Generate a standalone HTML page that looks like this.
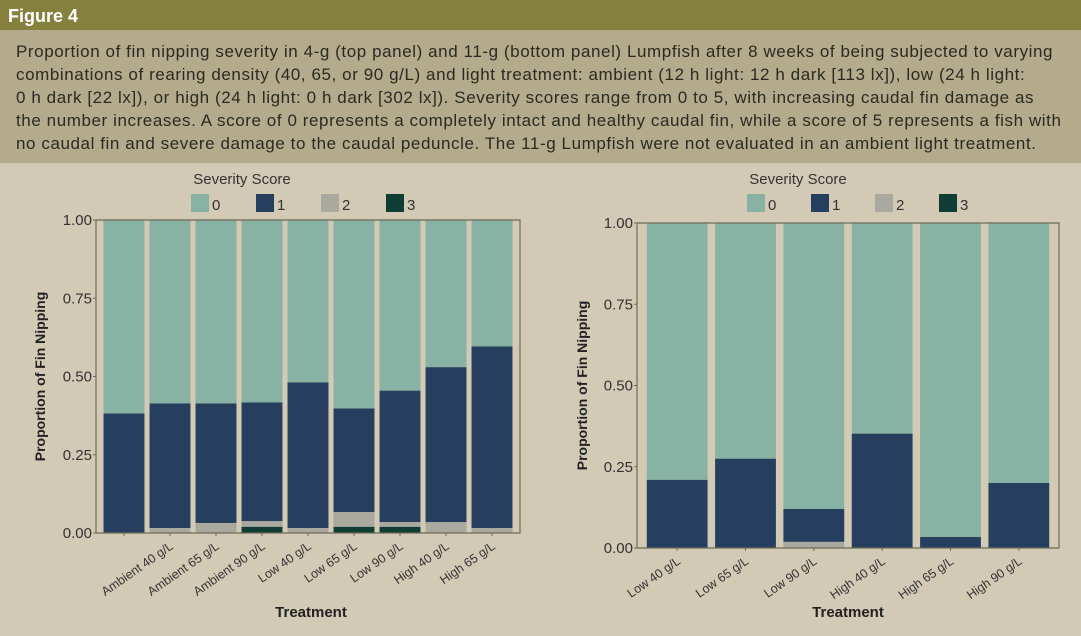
<!DOCTYPE html>
<html><head><meta charset="utf-8">
<style>
body{margin:0;width:1081px;height:636px;overflow:hidden;background:#d2cab5;font-family:"Liberation Sans","DejaVu Sans",sans-serif;}
#hdr{position:absolute;left:0;top:0;width:1081px;height:30px;background:#86803f;color:#fff;font-weight:bold;font-size:18px;line-height:32px;padding-left:8px;box-sizing:border-box;}
#cap{position:absolute;left:0;top:30px;width:1081px;height:133px;background:#b3ab8b;color:#2a2a22;font-size:17px;letter-spacing:0.58px;line-height:23px;padding:10px 0 0 16px;box-sizing:border-box;white-space:nowrap;}
svg{position:absolute;left:0;top:0;}
</style></head><body>
<div id="hdr">Figure 4</div>
<div id="cap">Proportion of fin nipping severity in 4-g (top panel) and 11-g (bottom panel) Lumpfish after 8 weeks of being subjected to varying<br>combinations of rearing density (40, 65, or 90 g/L) and light treatment: ambient (12 h light: 12 h dark [113 lx]), low (24 h light:<br>0 h dark [22 lx]), or high (24 h light: 0 h dark [302 lx]). Severity scores range from 0 to 5, with increasing caudal fin damage as<br>the number increases. A score of 0 represents a completely intact and healthy caudal fin, while a score of 5 represents a fish with<br>no caudal fin and severe damage to the caudal peduncle. The 11-g Lumpfish were not evaluated in an ambient light treatment.</div>
<svg id="chart" width="1081" height="636" xmlns="http://www.w3.org/2000/svg"></svg>
<script>
const leftCategories=["","Ambient 40 g/L","Ambient 65 g/L","Ambient 90 g/L","Low 40 g/L","Low 65 g/L","Low 90 g/L","High 40 g/L","High 65 g/L"];
const leftS3=[0,0,0,0.02,0,0.02,0.02,0,0];
const leftS2=[0,0.016,0.032,0.018,0.016,0.047,0.015,0.035,0.016];
const leftS1=[0.382,0.398,0.382,0.379,0.465,0.331,0.42,0.495,0.58];
const rightCategories=["Low 40 g/L","Low 65 g/L","Low 90 g/L","High 40 g/L","High 65 g/L","High 90 g/L"];
const rightS3=[0,0,0,0,0,0];
const rightS2=[0,0,0.019,0,0,0];
const rightS1=[0.21,0.275,0.101,0.352,0.034,0.2];
const yTicks=["0.00","0.25","0.50","0.75","1.00"];
const legendKeys=["0","1","2","3"];
const colors=["#88b2a3","#263f5e","#a9a99f","#0f3d35"];
const NS="http://www.w3.org/2000/svg";
const svg=document.getElementById('chart');
function mk(tag,attrs,parent,text){const e=document.createElementNS(NS,tag);for(const k in attrs)e.setAttribute(k,attrs[k]);if(text!==undefined)e.textContent=text;(parent||svg).appendChild(e);return e;}
function panel(cfg,cats,s1,s2,s3,tag){
  const g=mk('g',{});
  
  
  const y=v=>cfg.y0-v*(cfg.y0-cfg.y1);
  const n=cats.length, slot=(cfg.x1-cfg.x0-2*cfg.pad)/n, bw=slot*cfg.frac;
  const x=i=>cfg.x0+cfg.pad+slot*i+(slot-bw)/2;
  for(let i=0;i<n;i++){
    const stack=[s3[i],s2[i],s1[i],Math.max(0,1-s1[i]-s2[i]-s3[i])];
    const sc=[3,2,1,0];let base=0;
    stack.forEach((v,k)=>{
      if(v<=0){return;}
      const r=mk('rect',{x:x(i),y:y(base+v),width:bw,height:y(base)-y(base+v),fill:colors[sc[k]]},g);
      
      
      base+=v;
    });
    const cx=x(i)+bw/2;
    mk('line',{x1:cx,x2:cx,y1:cfg.y0,y2:cfg.y0+3,stroke:'#6e6a58'},g);
    if(cats[i]){
      const t=mk('text',{x:cx+4,y:cfg.y0+15,'font-size':12.5,fill:'#333','text-anchor':'end',transform:`rotate(-35 ${cx+4} ${cfg.y0+15})`},g,cats[i]);
      
      
    }
  }
  const ax=mk('path',{d:`M${cfg.x0} ${cfg.y1}V${cfg.y0}H${cfg.x1}V${cfg.y1}H${cfg.x0}`,fill:'none',stroke:'#6e6a58','stroke-width':1.2},g);
  
  
  yTicks.forEach((t,k)=>{
    const yy=y(parseFloat(t));
    mk('line',{x1:cfg.x0-3,x2:cfg.x0,y1:yy,y2:yy,stroke:'#6e6a58'},g);
    const tl=mk('text',{x:cfg.x0-4,y:yy+5,'font-size':15,fill:'#333','text-anchor':'end'},g,t);
    
    
  });
  const yt=mk('text',{x:cfg.ytx,y:(cfg.y0+cfg.y1)/2,'font-size':14,'font-weight':'bold',fill:'#222','text-anchor':'middle',transform:`rotate(-90 ${cfg.ytx} ${(cfg.y0+cfg.y1)/2})`},g,'Proportion of Fin Nipping');
  
  
  const xt=mk('text',{x:cfg.xtx,y:617,'font-size':15,'font-weight':'bold',fill:'#222','text-anchor':'middle'},g,'Treatment');
  
  
  const lt=mk('text',{x:cfg.lx+51,y:184,'font-size':15,fill:'#333','text-anchor':'middle'},g,'Severity Score');
  
  
  legendKeys.forEach((k,i)=>{
    const lx=cfg.lx+i*cfg.lstep;
    const sw=mk('rect',{x:lx,y:194,width:18,height:18,fill:colors[i]},g);
    
    
    const tx=mk('text',{x:lx+21,y:210,'font-size':15,fill:'#333'},g,k);
    
    
  });
}
panel({x0:96,x1:520,y0:533,y1:220,pad:5,frac:0.89,ytx:45,xtx:311,lx:191,lstep:65},leftCategories,leftS1,leftS2,leftS3,'left');
panel({x0:637,x1:1059,y0:548,y1:223,pad:6,frac:0.89,ytx:587,xtx:848,lx:747,lstep:64},rightCategories,rightS1,rightS2,rightS3,'right');
</script>
</body></html>
